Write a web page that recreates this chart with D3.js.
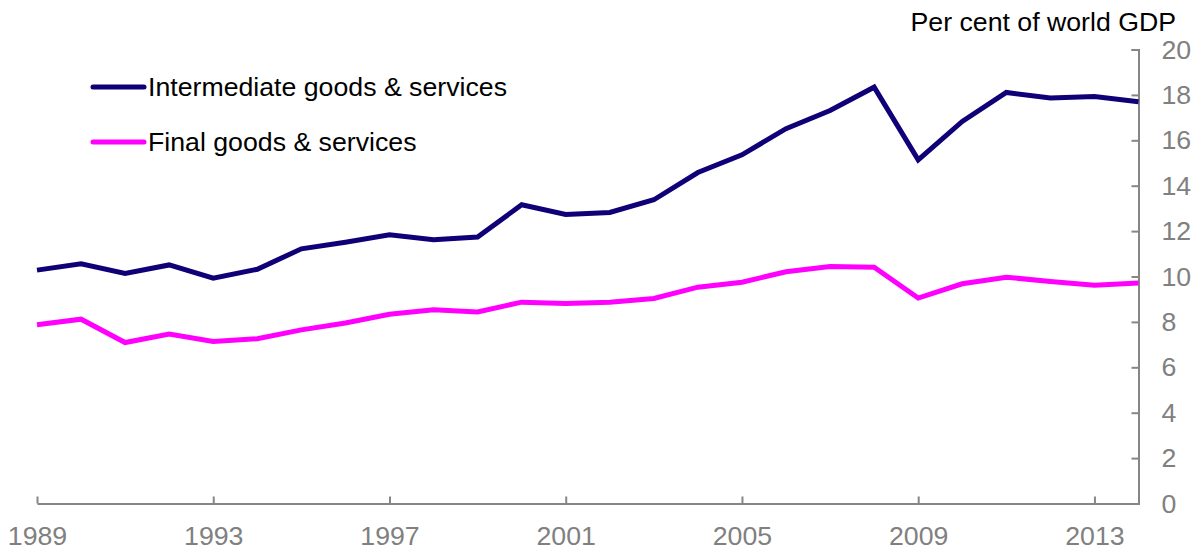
<!DOCTYPE html>
<html>
<head>
<meta charset="utf-8">
<script src="https://cdn.jsdelivr.net/npm/d3@7"></script>
<style>
  html, body { margin: 0; padding: 0; background: #fff; }
  svg { display: block; font-family: "Liberation Sans", Arial, sans-serif; }
</style>
</head>
<body>
<svg id="chart" width="1193" height="552"></svg>
<script>
const years = [1989,1990,1991,1992,1993,1994,1995,1996,1997,1998,1999,2000,2001,2002,2003,2004,2005,2006,2007,2008,2009,2010,2011,2012,2013,2014];
const intermediate = [10.28,10.56,10.13,10.51,9.93,10.32,11.22,11.51,11.84,11.62,11.74,13.16,12.73,12.82,13.38,14.58,15.36,16.51,17.31,18.34,15.14,16.83,18.11,17.86,17.93,17.70];
const finalGoods = [7.87,8.12,7.09,7.46,7.14,7.26,7.65,7.95,8.34,8.53,8.44,8.87,8.81,8.87,9.03,9.53,9.75,10.21,10.44,10.41,9.05,9.68,9.97,9.78,9.62,9.71];
const xTickYears = [1989,1993,1997,2001,2005,2009,2013];
const yTicks = [0,2,4,6,8,10,12,14,16,18,20];
const seriesNames = ["Intermediate goods & services", "Final goods & services"];
const seriesColors = ["#0f0078", "#ff00ff"];
const unitLabel = "Per cent of world GDP";

const svg = d3.select("#chart");
const x = d3.scaleLinear().domain([1989, 2014]).range([37, 1138.5]);
const y = d3.scaleLinear().domain([0, 20]).range([503.5, 49.5]);
const axisColor = "#868686";
const fontSize = 26.7;

// X axis
const xAxis = d3.axisBottom(x).tickValues(xTickYears).tickFormat(d3.format("d")).tickSize(-7).tickPadding(0).tickSizeOuter(0);
const gx = svg.append("g").attr("transform", `translate(0,${y(0)})`).call(xAxis);
gx.select(".domain").attr("stroke", axisColor).attr("stroke-width", 2);
gx.selectAll(".tick line").attr("stroke", axisColor).attr("stroke-width", 2);
gx.selectAll(".tick text").attr("fill", "#808080").attr("font-size", fontSize)
  .attr("font-family", "Liberation Sans, Arial, sans-serif").attr("dy", null).attr("y", 41);

// Y axis (right)
const yAxis = d3.axisRight(y).tickValues(yTicks).tickFormat(d3.format("d")).tickSize(-7).tickPadding(23).tickSizeOuter(-7);
const gy = svg.append("g").attr("transform", `translate(${x(2014)},0)`).call(yAxis);
gy.select(".domain").attr("stroke", axisColor).attr("stroke-width", 2);
gy.selectAll(".tick line").attr("stroke", axisColor).attr("stroke-width", 2);
gy.selectAll(".tick text").attr("fill", "#808080").attr("font-size", fontSize)
  .attr("font-family", "Liberation Sans, Arial, sans-serif");

// Lines
const line = d3.line().x((d, i) => x(years[i])).y(d => y(d));
[intermediate, finalGoods].forEach((vals, k) => {
  svg.append("path").datum(vals)
    .attr("d", line)
    .attr("fill", "none")
    .attr("stroke", seriesColors[k])
    .attr("stroke-width", 5)
    .attr("stroke-linejoin", "miter");
});

// Unit label
svg.append("text").attr("x", 1176).attr("y", 31).attr("text-anchor", "end")
  .attr("font-size", fontSize).attr("fill", "#000").text(unitLabel);

// Legend
seriesNames.forEach((name, k) => {
  const ly = 87 + k * 55;
  svg.append("line").attr("x1", 93).attr("x2", 144).attr("y1", ly).attr("y2", ly)
    .attr("stroke", seriesColors[k]).attr("stroke-width", 5).attr("stroke-linecap", "round");
  svg.append("text").attr("x", 148).attr("y", ly + 9).attr("font-size", fontSize)
    .attr("fill", "#000").text(name);
});
</script>
</body>
</html>
